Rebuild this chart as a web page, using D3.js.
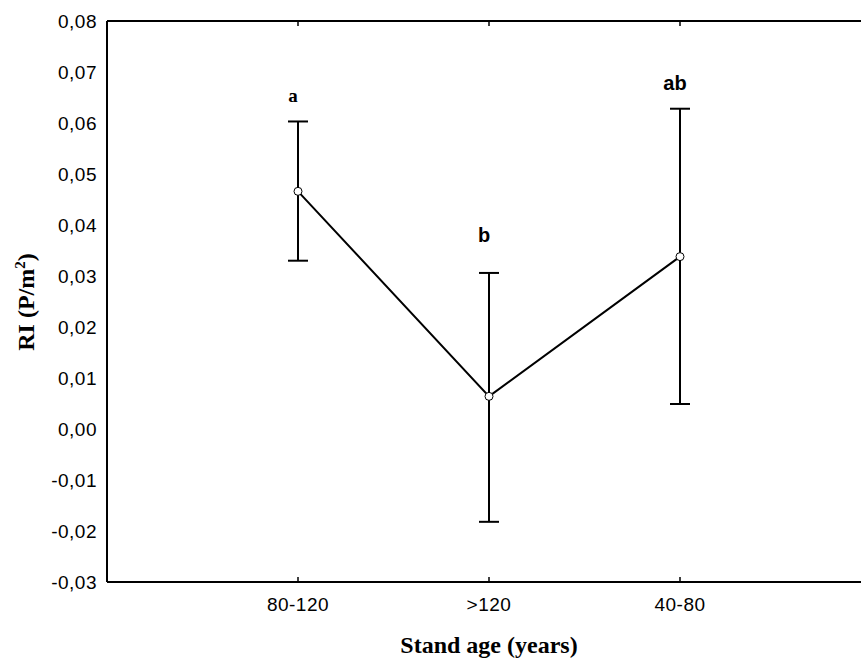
<!DOCTYPE html>
<html>
<head>
<meta charset="utf-8">
<script src="https://cdn.jsdelivr.net/npm/d3@7"></script>
<style>
  body { margin: 0; background: #fff; }
  svg { display: block; }
</style>
</head>
<body>
<div id="chart"></div>
<script>
'use strict';

var categories = ['80-120', '>120', '40-80'];
var means = [0.0466, 0.0064, 0.0338];
var upper = [0.0603, 0.0306, 0.0628];
var lower = [0.0330, -0.0182, 0.0049];
var groupLetters = ['a', 'b', 'ab'];
var yTicks = [-0.03, -0.02, -0.01, 0.00, 0.01, 0.02, 0.03, 0.04, 0.05, 0.06, 0.07, 0.08];

var width = 861, height = 659;
var margin = { top: 21, right: 0, bottom: 77, left: 107 };

var svg = d3.select('#chart')
    .append('svg')
    .attr('width', width)
    .attr('height', height);

// categories sit at 1,2,3 on a 0..4 axis; the right end runs off the page
var xScale = d3.scaleLinear()
    .domain([0, 4])
    .range([margin.left, margin.left + 4 * 191]);
var yScale = d3.scaleLinear()
    .domain([-0.03, 0.08])
    .range([height - margin.bottom, margin.top]);

var fmt = function (d) { return d3.format('.2f')(d).replace('.', ',').replace('−', '-'); };

// frame lines
svg.append('line')
    .attr('x1', xScale(0)).attr('x2', width)
    .attr('y1', yScale(0.08)).attr('y2', yScale(0.08))
    .attr('stroke', '#000').attr('stroke-width', 2);
svg.append('line')
    .attr('x1', xScale(0)).attr('x2', width)
    .attr('y1', yScale(-0.03)).attr('y2', yScale(-0.03))
    .attr('stroke', '#000').attr('stroke-width', 2);
svg.append('line')
    .attr('x1', xScale(0)).attr('x2', xScale(0))
    .attr('y1', yScale(0.08)).attr('y2', yScale(-0.03))
    .attr('stroke', '#000').attr('stroke-width', 2);

// y tick labels
svg.selectAll('.ylab')
    .data(yTicks)
    .enter()
    .append('text')
    .attr('class', 'ylab')
    .attr('x', xScale(0) - 10)
    .attr('y', function (d) { return yScale(d); })
    .attr('dy', '0.35em')
    .attr('text-anchor', 'end')
    .attr('font-family', 'Liberation Sans, Arial, sans-serif')
    .attr('font-size', '19px')
    .attr('letter-spacing', '0.5px')
    .attr('fill', '#000')
    .text(fmt);

// x ticks (inward, bottom and top)
categories.forEach(function (c, i) {
    var x = xScale(i + 1);
    svg.append('line')
        .attr('x1', x).attr('x2', x)
        .attr('y1', yScale(-0.03)).attr('y2', yScale(-0.03) - 5)
        .attr('stroke', '#000').attr('stroke-width', 1.5);
    svg.append('line')
        .attr('x1', x).attr('x2', x)
        .attr('y1', yScale(0.08)).attr('y2', yScale(0.08) + 5)
        .attr('stroke', '#000').attr('stroke-width', 1.5);
    svg.append('text')
        .attr('x', x)
        .attr('y', yScale(-0.03) + 29)
        .attr('text-anchor', 'middle')
        .attr('font-family', 'Liberation Sans, Arial, sans-serif')
        .attr('font-size', '19px')
        .attr('letter-spacing', '0.5px')
        .attr('fill', '#000')
        .text(c);
});

// error bars
var capHalf = 10;
categories.forEach(function (c, i) {
    var x = xScale(i + 1);
    svg.append('line')
        .attr('x1', x).attr('x2', x)
        .attr('y1', yScale(upper[i])).attr('y2', yScale(lower[i]))
        .attr('stroke', '#000').attr('stroke-width', 2);
    [upper[i], lower[i]].forEach(function (v) {
        svg.append('line')
            .attr('x1', x - capHalf).attr('x2', x + capHalf)
            .attr('y1', yScale(v)).attr('y2', yScale(v))
            .attr('stroke', '#000').attr('stroke-width', 2);
    });
});

// mean line
var line = d3.line()
    .x(function (d, i) { return xScale(i + 1); })
    .y(function (d) { return yScale(d); });
svg.append('path')
    .datum(means)
    .attr('d', line)
    .attr('fill', 'none')
    .attr('stroke', '#000')
    .attr('stroke-width', 2);

svg.selectAll('circle')
    .data(means)
    .enter()
    .append('circle')
    .attr('cx', function (d, i) { return xScale(i + 1); })
    .attr('cy', function (d) { return yScale(d); })
    .attr('r', 4)
    .attr('fill', '#fff')
    .attr('stroke', '#000')
    .attr('stroke-width', 1);

// group letters
var letterFonts = ['Liberation Serif, Times New Roman, serif', 'Liberation Sans, Arial, sans-serif', 'Liberation Sans, Arial, sans-serif'];
var letterGap = [19, 31, 19];
groupLetters.forEach(function (t, i) {
    svg.append('text')
        .attr('x', xScale(i + 1) - 5)
        .attr('y', yScale(upper[i]) - letterGap[i])
        .attr('text-anchor', 'middle')
        .attr('font-family', letterFonts[i])
        .attr('font-weight', 'bold')
        .attr('font-size', i === 0 ? '19px' : '20px')
        .attr('fill', '#000')
        .text(t);
});

// axis titles
svg.append('text')
    .attr('x', 489)
    .attr('y', 653)
    .attr('text-anchor', 'middle')
    .attr('font-family', 'Liberation Serif, Times New Roman, serif')
    .attr('font-weight', 'bold')
    .attr('font-size', '24px')
    .attr('fill', '#000')
    .text('Stand age (years)');

var yTitle = svg.append('text')
    .attr('transform', 'translate(34,302) rotate(-90)')
    .attr('text-anchor', 'middle')
    .attr('font-family', 'Liberation Serif, Times New Roman, serif')
    .attr('font-weight', 'bold')
    .attr('font-size', '24px')
    .attr('fill', '#000');
yTitle.append('tspan').text('RI (P/m');
yTitle.append('tspan').attr('font-size', '15px').attr('dy', '-9').text('2');
yTitle.append('tspan').attr('dy', '9').text(')');
</script>
</body>
</html>
